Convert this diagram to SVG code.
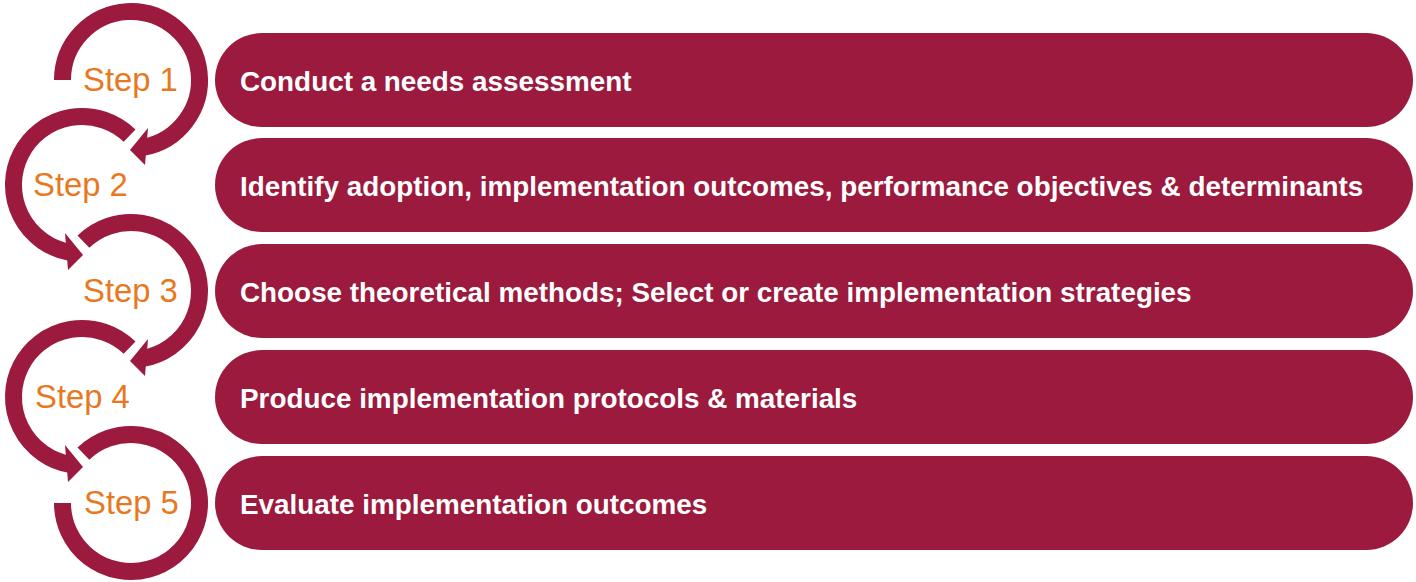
<svg xmlns="http://www.w3.org/2000/svg" width="1416" height="582" viewBox="0 0 1416 582">
<style>
.bar{fill:#9B1A3D}
.arc{fill:none;stroke:#9B1A3D;stroke-width:17}
.head{fill:#9B1A3D}
.lbl{font-family:"Liberation Sans",Arial,sans-serif;font-weight:bold;font-size:27.85px;fill:#ffffff}
.step{font-family:"Liberation Sans",Arial,sans-serif;font-size:32.8px;fill:#E8781F}
</style>
<rect width="1416" height="582" fill="#ffffff"/>
<g id="connectors">
<path class="arc" d="M62.5 80 A68.5 68.5 0 1 1 142.89 147.46"/>
<polygon class="head" points="148,128 145,165 130,150"/>
<path class="arc" d="M129.58 135.73 A68.5 68.5 0 1 0 70.11 252.46"/>
<polygon class="head" points="65,233 68,270 83,255"/>
<path class="arc" d="M83.42 241.73 A68.5 68.5 0 1 1 142.89 358.46"/>
<polygon class="head" points="148,339 145,376 130,361"/>
<path class="arc" d="M129.58 347.73 A68.5 68.5 0 1 0 70.11 464.46"/>
<polygon class="head" points="65,445 68,482 83,467"/>
<path class="arc" d="M83.42 453.73 A68.5 68.5 0 1 1 62.5 503"/>
</g>
<g id="step1"><text class="step" x="83" y="91">Step 1</text><rect class="bar" x="215" y="33" width="1198" height="94" rx="47"/><text class="lbl" x="240" y="91">Conduct a needs assessment</text></g>
<g id="step2"><text class="step" x="33" y="196">Step 2</text><rect class="bar" x="215" y="138" width="1198" height="94" rx="47"/><text class="lbl" x="240" y="196">Identify adoption, implementation outcomes, performance objectives &amp; determinants</text></g>
<g id="step3"><text class="step" x="83" y="302">Step 3</text><rect class="bar" x="215" y="244" width="1198" height="94" rx="47"/><text class="lbl" x="240" y="302">Choose theoretical methods; Select or create implementation strategies</text></g>
<g id="step4"><text class="step" x="35" y="408">Step 4</text><rect class="bar" x="215" y="350" width="1198" height="94" rx="47"/><text class="lbl" x="240" y="408">Produce implementation protocols &amp; materials</text></g>
<g id="step5"><text class="step" x="84" y="514">Step 5</text><rect class="bar" x="215" y="456" width="1198" height="94" rx="47"/><text class="lbl" x="240" y="514">Evaluate implementation outcomes</text></g>
</svg>
